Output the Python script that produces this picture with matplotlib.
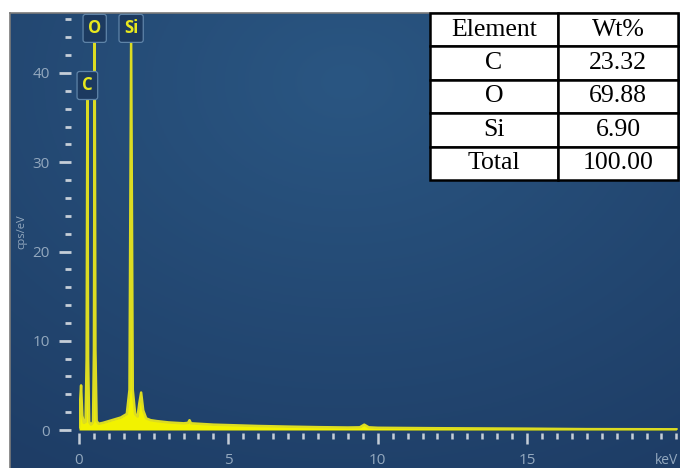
import numpy as np
import matplotlib
matplotlib.use("Agg")
import matplotlib.pyplot as plt
from matplotlib.ticker import MultipleLocator

# ---- data ----
energy_kev = [0.00, 0.03, 0.07, 0.11, 0.16, 0.22, 0.255, 0.28, 0.305, 0.34, 0.40,
              0.47, 0.50, 0.525, 0.55, 0.59, 0.66, 0.80, 1.00, 1.20, 1.40, 1.60,
              1.69, 1.745, 1.80, 1.88, 1.96, 2.02, 2.08, 2.15, 2.25, 2.40, 2.60,
              3.00, 3.50, 3.65, 3.70, 3.75, 4.00, 4.50, 5.00, 6.00, 7.00, 8.00,
              9.00, 9.40, 9.55, 9.70, 10.00, 12.00, 15.00, 17.00, 20.00]
counts_cps = [0.3, 2.8, 5.0, 1.6, 0.8, 0.9, 8.0, 37.0, 8.0, 0.9, 0.6,
              0.9, 9.0, 43.5, 9.0, 1.0, 0.7, 0.8, 1.0, 1.2, 1.4, 1.8,
              4.5, 43.5, 4.5, 1.8, 1.5, 3.0, 4.2, 2.2, 1.3, 1.1, 1.0,
              0.85, 0.75, 0.8, 1.1, 0.75, 0.7, 0.6, 0.55, 0.45, 0.38, 0.32,
              0.28, 0.3, 0.6, 0.3, 0.25, 0.2, 0.15, 0.1, 0.08]

peak_elements = ["C", "O", "Si"]
peak_energy = [0.28, 0.525, 1.745]
peak_label_y = [38.6, 45.0, 45.0]

table_header = ["Element", "Wt%"]
table_elements = ["C", "O", "Si", "Total"]
table_wt = ["23.32", "69.88", "6.90", "100.00"]

W, H = 680, 468
fig = plt.figure(figsize=(W / 100, H / 100), dpi=100, facecolor="white")

# ---- blue background panel with soft gradient ----
bg = fig.add_axes([10 / W, 0, 670 / W, 455 / H])
gx, gy = np.meshgrid(np.linspace(0, 1, 300), np.linspace(0, 1, 200))
d = np.sqrt(((gx - 0.5) / 0.9) ** 2 + ((gy - 0.15) / 1.0) ** 2)
t = np.clip(1 - d, 0, 1)
c0 = np.array([0x1e, 0x3d, 0x66]) / 255
c1 = np.array([0x2a, 0x56, 0x82]) / 255
img = c0[None, None, :] + (c1 - c0)[None, None, :] * t[:, :, None]
bg.imshow(img, aspect="auto", extent=[0, 1, 0, 1], origin="upper")
bg.set_xlim(0, 1)
bg.set_ylim(0, 1)
bg.set_xticks([])
bg.set_yticks([])
for s in ["right", "bottom"]:
    bg.spines[s].set_visible(False)
for s in ["left", "top"]:
    bg.spines[s].set_color("#7a7a7a")
    bg.spines[s].set_linewidth(1.2)

# ---- spectrum axes ----
x0px, y0px = 79, 430
ppk = 29.87
ppu = 8.925
ax = fig.add_axes([x0px / W, (H - y0px) / H, (W - x0px) / W, (y0px - 13) / H])
ax.patch.set_alpha(0)
ax.set_xlim(0, (W - x0px) / ppk)
ax.set_ylim(0, (y0px - 13) / ppu)

ax.fill_between(energy_kev, 0, counts_cps, color="#f2f200", lw=0, zorder=3)
ax.plot(energy_kev, counts_cps, color="#dcdc22", lw=1.8, zorder=3,
        solid_joinstyle="round")

for s in ["top", "right", "left", "bottom"]:
    ax.spines[s].set_visible(False)
ax.spines["left"].set_position(("outward", 5.8))
ax.spines["bottom"].set_position(("outward", 2.2))

ax.xaxis.set_major_locator(MultipleLocator(5))
ax.xaxis.set_minor_locator(MultipleLocator(0.5))
ax.yaxis.set_major_locator(MultipleLocator(10))
ax.yaxis.set_minor_locator(MultipleLocator(2))

tick_col = "#c5ced8"
lab_col = "#93a8be"
ax.tick_params(axis="y", which="major", direction="out", length=9, width=2.0,
               color=tick_col, labelcolor=lab_col, labelsize=11, pad=6)
ax.tick_params(axis="y", which="minor", direction="out", length=4.5, width=2.0,
               color=tick_col)
ax.tick_params(axis="x", which="major", direction="out", length=8, width=1.8,
               color=tick_col, labelcolor=lab_col, labelsize=11, pad=6)
ax.tick_params(axis="x", which="minor", direction="out", length=4.5, width=1.8,
               color=tick_col)
ax.set_xticks([0, 5, 10, 15])
ax.set_xticklabels(["0", "5", "10", "15"])
ax.set_yticks([0, 10, 20, 30, 40])
ax.set_yticklabels(["0", "10", "20", "30", "40"])
for lbl in ax.get_xticklabels() + ax.get_yticklabels():
    lbl.set_family("Open Sans")

fig.text(655 / W, 1 - 461 / H, "keV", color=lab_col, fontsize=10,
         family="Open Sans", ha="left", va="center")
fig.text(22 / W, 1 - 232 / H, "cps/eV", color=lab_col, fontsize=8,
         family="Open Sans", rotation=90, ha="center", va="center")

# ---- peak labels ----
for el, e, ly in zip(peak_elements, peak_energy, peak_label_y):
    ax.text(e, ly, el, color="#e8e81e", fontsize=12, fontweight="bold",
            family="Open Sans", ha="center", va="center", zorder=5,
            bbox=dict(boxstyle="round,pad=0.3,rounding_size=0.15",
                      fc="#1c3a60", ec="#5f84a8", lw=0.9))

# ---- table ----
tax = fig.add_axes([430 / W, (H - 180) / H, 248 / W, 167 / H])
tax.axis("off")
cells = [table_header] + [[a, b] for a, b in zip(table_elements, table_wt)]
tbl = tax.table(cellText=cells, bbox=[0, 0, 1, 1], cellLoc="center",
                colWidths=[0.516, 0.484])
tbl.auto_set_font_size(False)
for (r, c), cell in tbl.get_celld().items():
    cell.set_facecolor("white")
    cell.set_edgecolor("black")
    cell.set_linewidth(1.8)
    cell.get_text().set_fontsize(18.5)
    cell.get_text().set_family("Liberation Serif")

fig.savefig("out.png", dpi=100, facecolor="white")
